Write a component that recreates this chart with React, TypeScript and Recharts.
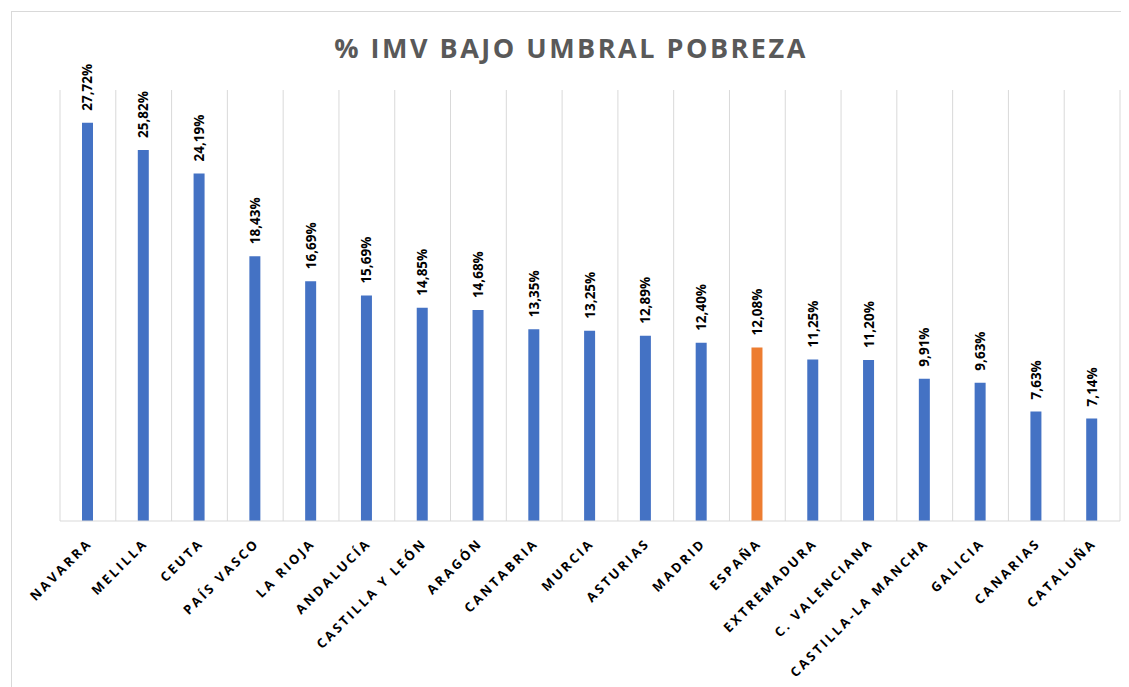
import React from 'react';
import { BarChart, Bar, XAxis, YAxis, CartesianGrid, Cell, LabelList } from 'recharts';

const categories = ['NAVARRA', 'MELILLA', 'CEUTA', 'PAÍS VASCO', 'LA RIOJA', 'ANDALUCÍA', 'CASTILLA Y LEÓN', 'ARAGÓN', 'CANTABRIA', 'MURCIA', 'ASTURIAS', 'MADRID', 'ESPAÑA', 'EXTREMADURA', 'C. VALENCIANA', 'CASTILLA-LA MANCHA', 'GALICIA', 'CANARIAS', 'CATALUÑA'];
const values = [27.72, 25.82, 24.19, 18.43, 16.69, 15.69, 14.85, 14.68, 13.35, 13.25, 12.89, 12.40, 12.08, 11.25, 11.20, 9.91, 9.63, 7.63, 7.14];
const highlight = 'ESPAÑA';

const data = categories.map((name, i) => ({ name, value: values[i] }));

const FONT = '"Open Sans", sans-serif';

const fmt = (v: number) => v.toFixed(2).replace('.', ',') + '%';

const ValueLabel = (props: any) => {
  const { x, y, width, value } = props;
  const cx = x + width / 2;
  const ty = y - 12;
  return (
    <text
      x={cx}
      y={ty}
      transform={`rotate(-90 ${cx} ${ty})`}
      textAnchor="start"
      dominantBaseline="central"
      fontFamily={FONT}
      fontWeight={700}
      fontSize={13.5}
      fill="#000"
    >
      {fmt(value)}
    </text>
  );
};

const XTick = (props: any) => {
  const { x, y, payload } = props;
  const ax = x + 5;
  const ay = y + 15;
  return (
    <text
      x={ax}
      y={ay}
      transform={`rotate(-45 ${ax} ${ay})`}
      textAnchor="end"
      fontFamily={FONT}
      fontWeight={700}
      fontSize={13}
      letterSpacing={2.6}
      fill="#000"
    >
      {payload.value}
    </text>
  );
};

export default function App() {
  const n = categories.length;
  return (
    <div style={{ position: 'relative', width: 1121, height: 679 }}>
      <div
        style={{
          position: 'absolute',
          left: 3,
          top: 3,
          width: 1130,
          height: 690,
          border: '1px solid #d9d9d9',
          boxSizing: 'border-box',
        }}
      />
      <div
        style={{
          position: 'absolute',
          left: 0,
          top: 21,
          width: 1126,
          textAlign: 'center',
          fontFamily: FONT,
          fontWeight: 700,
          fontSize: 27,
          letterSpacing: 2.5,
          color: '#595959',
        }}
      >
        % IMV BAJO UMBRAL POBREZA
      </div>
      <div style={{ position: 'absolute', left: 0, top: 0 }}>
        <BarChart
          width={1121}
          height={679}
          data={data}
          margin={{ top: 82, right: 9, left: 52, bottom: 16 }}
          barCategoryGap={0}
        >
          <CartesianGrid
            horizontal={false}
            vertical={true}
            stroke="#d9d9d9"
            verticalCoordinatesGenerator={({ offset }: any) =>
              Array.from({ length: n + 1 }, (_, i) => offset.left + (i * offset.width) / n)
            }
          />
          <YAxis hide domain={[0, 30]} />
          <XAxis
            dataKey="name"
            interval={0}
            height={150}
            tickLine={false}
            axisLine={{ stroke: '#d9d9d9' }}
            tick={<XTick />}
          />
          <Bar dataKey="value" barSize={11} isAnimationActive={false}>
            {data.map((d) => (
              <Cell key={d.name} fill={d.name === highlight ? '#ED7D31' : '#4472C4'} />
            ))}
            <LabelList dataKey="value" content={<ValueLabel />} />
          </Bar>
        </BarChart>
      </div>
    </div>
  );
}
